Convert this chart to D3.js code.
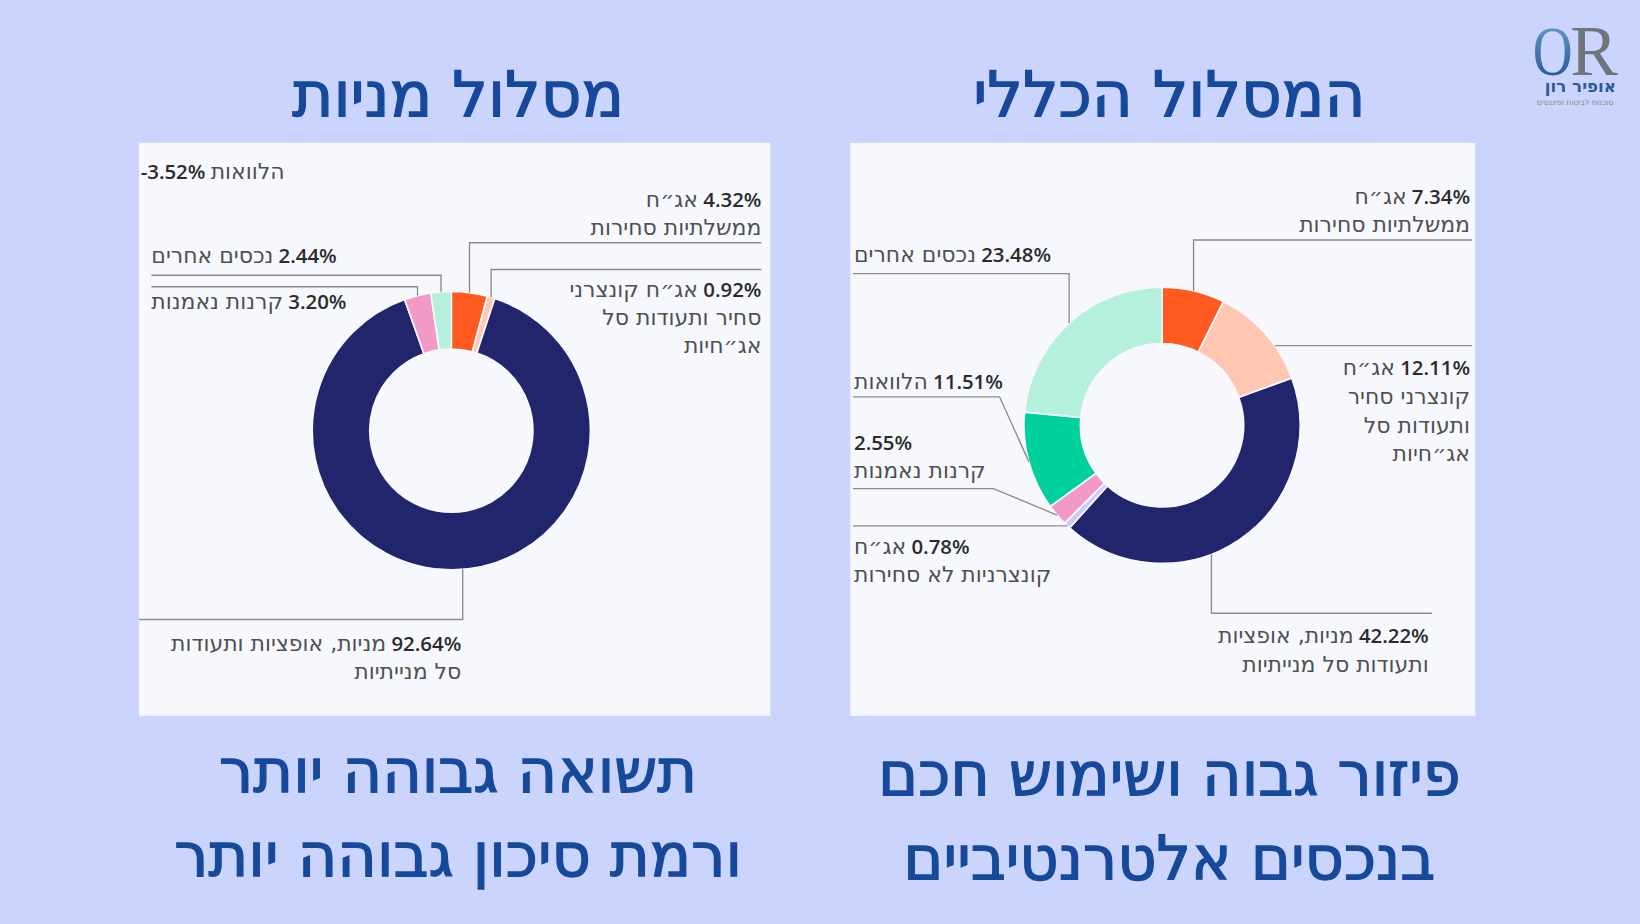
<!DOCTYPE html>
<html lang="he">
<head>
<meta charset="utf-8">
<script src="https://cdn.jsdelivr.net/npm/d3@7"></script>
<style>
  html, body { margin: 0; padding: 0; background: #cad4fc; }
  svg { display: block; }
</style>
</head>
<body>
<div id="chart"></div>
<script>
// ---- data ----
const categories = [
  "אג״ח ממשלתיות סחירות",
  "אג״ח קונצרני סחיר ותעודות סל אג״חיות",
  "מניות, אופציות ותעודות סל מנייתיות",
  "אג״ח קונצרניות לא סחירות",
  "קרנות נאמנות",
  "הלוואות",
  "נכסים אחרים"
];
const categoryColors = ["#ff5a1f", "#ffc6b2", "#21256c", "#c9cdf6", "#f29ac7", "#00d09c", "#b5f0dd"];

const equityValues  = [4.32, 0.92, 92.64, 0, 3.20, -3.52, 2.44];
const generalValues = [7.34, 12.11, 42.22, 0.78, 2.55, 11.51, 23.48];

const equityTitle  = "מסלול מניות";
const generalTitle = "המסלול הכללי";
const equityNote  = ["תשואה גבוהה יותר", "ורמת סיכון גבוהה יותר"];
const generalNote = ["פיזור גבוה ושימוש חכם", "בנכסים אלטרנטיביים"];

// label wording, broken into lines as in the picture (number goes on line 1)
const equityLines = [
  ["אג״ח", "ממשלתיות סחירות"],
  ["אג״ח קונצרני", "סחיר ותעודות סל", "אג״חיות"],
  ["מניות, אופציות ותעודות", "סל מנייתיות"],
  null,
  ["קרנות נאמנות"],
  ["הלוואות"],
  ["נכסים אחרים"]
];
const generalLines = [
  ["אג״ח", "ממשלתיות סחירות"],
  ["אג״ח", "קונצרני סחיר", "ותעודות סל", "אג״חיות"],
  ["מניות, אופציות", "ותעודות סל מנייתיות"],
  ["אג״ח", "קונצרניות לא סחירות"],
  ["", "קרנות נאמנות"],
  ["הלוואות"],
  ["נכסים אחרים"]
];

// ---- layout (drawing units of a 1568x883 frame) ----
const W = 1568, H = 883;
const PANEL_FILL = "#f6f8fe";
const LINE_COLOR = "#8c8c8c";
const HEAD_COLOR = "#17499a";

const equityLayout = [
  {align: "right", x: 728, y: 198, lineY: 232, leader: "v", edgeX: 728},
  {align: "right", x: 728, y: 283.6, lineY: 257.5, leader: "v", edgeX: 728},
  {align: "right", x: 441, y: 622, lineY: 592, leader: "v", edgeX: 133, nudge: -4},
  null,
  {align: "left", x: 144.7, y: 295.7, lineY: 274, leader: "v", edgeX: 144.7},
  {align: "left", numFirst: true, x: 134.5, y: 170.8, leader: "none"},
  {align: "left", x: 144.7, y: 251.8, lineY: 263, leader: "v", edgeX: 144.7}
];
const generalLayout = [
  {align: "right", x: 1405.5, y: 194.5, lineY: 229.3, leader: "v", edgeX: 1407.5},
  {align: "right", x: 1405.5, y: 358.4, lineY: 330.3, leader: "h", edgeX: 1407.5},
  {align: "right", x: 1366, y: 614.5, lineY: 586, leader: "v", edgeX: 1369, nudge: 13},
  {align: "left", x: 816.5, y: 529, lineY: 502.6, leader: "h", edgeX: 815.5},
  {align: "left", x: 816.5, y: 429.6, lineY: 466.9, leader: "d", edgeX: 815.5, elbowDx: -61},
  {align: "left", x: 816.5, y: 371.3, lineY: 379.2, leader: "d", edgeX: 815.5, elbowDx: -28},
  {align: "left", x: 816.5, y: 250.5, lineY: 261.5, leader: "v", edgeX: 815.5}
];

const color = d3.scaleOrdinal().domain(categories).range(categoryColors);
const fmt = d3.formatLocale({decimal: ".", thousands: ",", grouping: [3], currency: ["", ""], minus: "-"}).format(".2f");

const svg = d3.select("#chart")
  .append("svg")
    .attr("width", 1640)
    .attr("height", 924)
    .attr("viewBox", `0 0 ${W} ${H}`)
    .attr("preserveAspectRatio", "none");

svg.append("rect")
  .attr("width", W)
  .attr("height", H)
  .attr("fill", "#cad4fc");

function labelLine(g, L, num, heb, y) {
  const gap = 5;
  let numT = null, hebT = null;
  if (num) {
    numT = g.append("text")
      .attr("y", y)
      .attr("font-family", "'Open Sans', 'DejaVu Sans'")
      .attr("font-weight", 600)
      .attr("font-size", 19.5)
      .attr("fill", "#2b2b2b")
      .text(num);
  }
  if (heb) {
    hebT = g.append("text")
      .attr("y", y)
      .attr("font-family", "DejaVu Sans")
      .attr("font-size", 21)
      .attr("fill", "#505050")
      .text(heb);
  }
  const numW = numT ? numT.node().getComputedTextLength() : 0;
  const hebW = hebT ? hebT.node().getComputedTextLength() : 0;
  if (L.align === "right") {
    if (numT) numT.attr("x", L.x).attr("text-anchor", "end");
    if (hebT) hebT.attr("x", L.x - (numT ? numW + gap : 0)).attr("text-anchor", "end");
  } else if (L.numFirst) {
    if (numT) numT.attr("x", L.x);
    if (hebT) hebT.attr("x", L.x + (numT ? numW + gap : 0));
  } else {
    if (hebT) hebT.attr("x", L.x);
    if (numT) numT.attr("x", L.x + (hebT ? hebW + gap : 0));
  }
}

function drawDonut(cfg) {
  const g = svg.append("g");
  g.append("rect")
    .attr("x", cfg.panel[0])
    .attr("y", cfg.panel[1])
    .attr("width", cfg.panel[2])
    .attr("height", cfg.panel[3])
    .attr("fill", PANEL_FILL);

  const items = categories.map((c, i) => ({cat: c, idx: i, value: cfg.values[i]}));
  const pie = d3.pie().sort(null).value(d => d.value);
  const arcs = pie(items.filter(d => d.value > 0));
  const arc = d3.arc().innerRadius(cfg.rIn).outerRadius(cfg.rOut);

  g.append("g")
    .attr("transform", `translate(${cfg.cx},${cfg.cy})`)
    .selectAll("path")
    .data(arcs)
    .join("path")
      .attr("d", arc)
      .attr("fill", d => color(d.data.cat))
      .attr("stroke", PANEL_FILL)
      .attr("stroke-width", 1.6);

  const byIdx = new Map(arcs.map(a => [a.data.idx, a]));
  cfg.layout.forEach((L, i) => {
    if (!L) return;
    const a = byIdx.get(i);
    if (a && L.leader !== "none") {
      let pts;
      if (L.leader === "h") {
        const dy = L.lineY - cfg.cy;
        const dx = Math.sqrt(cfg.rOut * cfg.rOut - dy * dy);
        const side = L.edgeX > cfg.cx ? 1 : -1;
        pts = [[cfg.cx + side * dx, L.lineY], [L.edgeX, L.lineY]];
      } else {
        const mid = (a.startAngle + a.endAngle) / 2 + (L.nudge || 0) * Math.PI / 180;
        const ax = cfg.cx + cfg.rOut * Math.sin(mid);
        const ay = cfg.cy - cfg.rOut * Math.cos(mid);
        pts = [[ax, ay], [ax + (L.elbowDx || 0), L.lineY], [L.edgeX, L.lineY]];
      }
      g.append("path")
        .attr("d", d3.line()(pts))
        .attr("fill", "none")
        .attr("stroke", LINE_COLOR)
        .attr("stroke-width", 1.3);
    }
    const lines = cfg.lines[i];
    lines.forEach((t, k) => {
      labelLine(g, L, k === 0 ? fmt(cfg.values[i]) + "%" : null, t, L.y + k * cfg.lh);
    });
  });

  // title above, note below (a thin stroke gives the heavier look of the original face)
  svg.append("text")
    .attr("x", cfg.titleX)
    .attr("y", 111)
    .attr("text-anchor", "middle")
    .attr("font-family", "DejaVu Sans")
    .attr("font-size", 60)
    .attr("fill", HEAD_COLOR)
    .attr("stroke", HEAD_COLOR)
    .attr("stroke-width", 1.3)
    .text(cfg.title);
  cfg.note.forEach((t, k) => {
    svg.append("text")
      .attr("x", cfg.titleX)
      .attr("y", cfg.noteY + k * 80)
      .attr("text-anchor", "middle")
      .attr("font-family", "DejaVu Sans")
      .attr("font-size", 58)
      .attr("fill", HEAD_COLOR)
      .attr("stroke", HEAD_COLOR)
      .attr("stroke-width", 1.3)
      .text(t);
  });
}

drawDonut({
  panel: [133, 136.5, 603.5, 547.5],
  cx: 431.5, cy: 411.5, rOut: 133, rIn: 78,
  values: equityValues, lines: equityLines, layout: equityLayout, lh: 27,
  title: equityTitle, titleX: 438, note: equityNote, noteY: 757
});
drawDonut({
  panel: [813, 136.5, 597.5, 547.5],
  cx: 1111, cy: 406.4, rOut: 132, rIn: 78,
  values: generalValues, lines: generalLines, layout: generalLayout, lh: 27.5,
  title: generalTitle, titleX: 1118, note: generalNote, noteY: 760
});

// ---- logo, top right ----
const defs = svg.append("defs");
const grad = defs.append("linearGradient")
  .attr("id", "logoBlue")
  .attr("x1", 0).attr("y1", 0).attr("x2", 0).attr("y2", 1);
grad.append("stop").attr("offset", "0%").attr("stop-color", "#6aa6d4");
grad.append("stop").attr("offset", "100%").attr("stop-color", "#1d4c86");

const logo = svg.append("g");
logo.append("text")
  .attr("transform", "translate(1484.5,71.5) scale(0.8,1)")
  .attr("text-anchor", "middle")
  .attr("font-family", "Liberation Serif")
  .attr("font-size", 66)
  .attr("fill", "url(#logoBlue)")
  .text("O");
logo.append("text")
  .attr("x", 1524).attr("y", 71.5)
  .attr("text-anchor", "middle")
  .attr("font-family", "Liberation Serif")
  .attr("font-size", 68)
  .attr("fill", "#70757d")
  .text("R");
logo.append("text")
  .attr("x", 1511).attr("y", 88)
  .attr("text-anchor", "middle")
  .attr("font-family", "DejaVu Sans")
  .attr("font-weight", "bold")
  .attr("font-size", 16)
  .attr("fill", "#2a5b98")
  .text("אופיר רון");
logo.append("text")
  .attr("x", 1506).attr("y", 100.5)
  .attr("text-anchor", "middle")
  .attr("font-family", "DejaVu Sans")
  .attr("font-size", 7.5)
  .attr("fill", "#8a8a8a")
  .text("סוכנות לביטוח ופיננסים");
</script>
</body>
</html>
